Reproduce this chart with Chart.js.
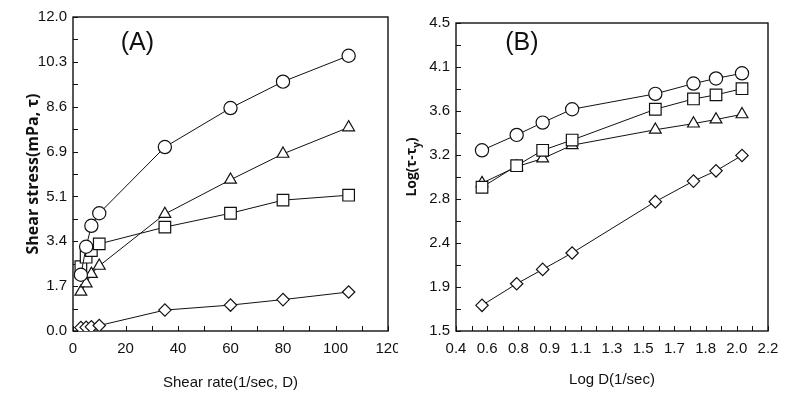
<!DOCTYPE html>
<html>
<head>
<meta charset="utf-8">
<script src="https://cdn.jsdelivr.net/npm/chart.js@4.4.0/dist/chart.umd.min.js"></script>
<style>
  body { margin: 0; background: #fff; }
  #wrap { position: relative; width: 797px; height: 399px; }
  #chartA { position: absolute; left: 0; top: 0; }
  #chartB { position: absolute; left: 398px; top: 0; }
</style>
</head>
<body>
<div id="wrap">
  <canvas id="chartA" width="398" height="399"></canvas>
  <canvas id="chartB" width="399" height="399"></canvas>
</div>
<script>
// (A) shear stress vs shear rate
const shearRate = [3, 5, 7, 10, 35, 60, 80, 105];
const stressCircle = [2.15, 3.22, 4.02, 4.50, 7.03, 8.52, 9.53, 10.52];
const stressSquare = [2.46, 2.82, 3.07, 3.33, 3.97, 4.50, 5.00, 5.19];
const stressTriangle = [1.50, 1.82, 2.18, 2.49, 4.47, 5.78, 6.77, 7.78];
const stressDiamond = [0.13, 0.14, 0.16, 0.21, 0.80, 0.99, 1.20, 1.49];
const aXTicks = ['0', '20', '40', '60', '80', '100', '120'];
const aYTicks = ['0.0', '1.7', '3.4', '5.1', '6.9', '8.6', '10.3', '12.0'];

// (B) log plot
const logRate = [0.55, 0.75, 0.90, 1.07, 1.55, 1.77, 1.90, 2.05];
const logCircle = [3.26, 3.41, 3.53, 3.66, 3.81, 3.91, 3.96, 4.01];
const logSquare = [2.90, 3.11, 3.26, 3.36, 3.66, 3.76, 3.80, 3.86];
const logTriangle = [2.94, 3.10, 3.18, 3.31, 3.46, 3.52, 3.56, 3.61];
const logDiamond = [1.75, 1.96, 2.10, 2.26, 2.76, 2.96, 3.06, 3.21];
const bXTicks = ['0.4', '0.6', '0.8', '0.9', '1.1', '1.3', '1.5', '1.7', '1.8', '2.0', '2.2'];
const bYTicks = ['1.5', '1.9', '2.4', '2.8', '3.2', '3.6', '4.1', '4.5'];

Chart.defaults.color = '#111';
Chart.defaults.font.family = "'Liberation Sans', Arial, sans-serif";
Chart.defaults.animation = false;

function series(xs, ys, style, r) {
  return {
    data: xs.map((x, i) => ({ x: x, y: ys[i] })),
    showLine: true,
    tension: 0,
    borderColor: '#111',
    borderWidth: 1,
    pointStyle: style,
    pointRadius: r,
    pointHoverRadius: r,
    pointBorderColor: '#111',
    pointBackgroundColor: '#fff',
    pointBorderWidth: 1.2
  };
}

function axis(labels, min, max, size, horizontal, title) {
  return {
    type: 'linear',
    min: min,
    max: max,
    grid: { display: false, drawTicks: false, tickLength: 0 },
    border: { display: false },
    afterBuildTicks: s => {
      s.ticks = labels.map((_, i) => ({ value: min + i * (max - min) / (labels.length - 1) }));
    },
    afterFit: s => {
      if (horizontal) s.height = size; else s.width = size;
      s.paddingLeft = 0; s.paddingRight = 0; s.paddingTop = 0; s.paddingBottom = 0;
    },
    ticks: {
      autoSkip: false,
      maxRotation: 0,
      padding: horizontal ? 9 : 6,
      font: { size: 15 },
      callback: (v, i) => labels[i]
    },
    title: title
  };
}

// box frame, inward ticks (major + minor), panel letter, subscript y-title
const frame = {
  id: 'frame',
  beforeDatasetsDraw(chart, args, opts) {
    const { ctx, chartArea: a, scales: { x, y } } = chart;
    const marks = sc => {
      const v = sc.ticks.map(t => t.value);
      const out = [];
      v.forEach((t, i) => { out.push(t); if (i < v.length - 1) out.push((t + v[i + 1]) / 2); });
      return out;
    };
    ctx.save();
    ctx.strokeStyle = '#111';
    ctx.lineWidth = 1;
    ctx.beginPath();
    marks(x).forEach(v => {
      const px = Math.round(x.getPixelForValue(v)) + 0.5;
      ctx.moveTo(px, a.bottom); ctx.lineTo(px, a.bottom - 5);
    });
    marks(y).forEach(v => {
      const py = Math.round(y.getPixelForValue(v)) + 0.5;
      ctx.moveTo(a.left, py); ctx.lineTo(a.left + 5, py);
    });
    ctx.stroke();
    ctx.lineWidth = 1.4;
    ctx.strokeRect(a.left, a.top, a.right - a.left, a.bottom - a.top);

    ctx.fillStyle = '#111';
    ctx.font = "25px 'Liberation Sans', Arial, sans-serif";
    ctx.textAlign = 'center';
    ctx.textBaseline = 'middle';
    ctx.fillText(opts.label, x.getPixelForValue(opts.at[0]), y.getPixelForValue(opts.at[1]));

    if (opts.subTitle) {
      ctx.translate(opts.subTitle.x, opts.subTitle.y);
      ctx.rotate(-Math.PI / 2);
      const big = "bold 14px 'Open Sans', sans-serif";
      const small = "bold 10px 'Open Sans', sans-serif";
      ctx.font = big;
      const w1 = ctx.measureText('Log(τ-τ').width;
      const w3 = ctx.measureText(')').width;
      ctx.font = small;
      const w2 = ctx.measureText('y').width;
      const sx = -(w1 + w2 + w3) / 2;
      ctx.textAlign = 'left';
      ctx.font = big;
      ctx.fillText('Log(τ-τ', sx, 0);
      ctx.font = small;
      ctx.fillText('y', sx + w1, 5);
      ctx.font = big;
      ctx.fillText(')', sx + w1 + w2, 0);
    }
    ctx.restore();
  }
};

new Chart(document.getElementById('chartA'), {
  type: 'scatter',
  data: {
    datasets: [
      series(shearRate, stressCircle, 'circle', 6.6),
      series(shearRate, stressSquare, 'rect', 8.2),
      series(shearRate, stressTriangle, 'triangle', 6.8),
      series(shearRate, stressDiamond, 'rectRot', 6.2)
    ]
  },
  options: {
    responsive: false,
    layout: { padding: { left: 0, right: 10, top: 17, bottom: 0 } },
    plugins: {
      legend: { display: false },
      tooltip: { enabled: false },
      frame: { label: '(A)', at: [24.5, 11.0] }
    },
    scales: {
      x: axis(aXTicks, 0, 120, 68, true,
        { display: true, text: 'Shear rate(1/sec, D)', font: { size: 15 }, padding: { top: 0, bottom: 7 } }),
      y: axis(aYTicks, 0, 12, 73, false,
        { display: true, text: 'Shear stress(mPa, τ)', font: { size: 16, weight: 'bold', family: "'Open Sans', sans-serif" }, padding: { top: 24, bottom: 0 } })
    }
  },
  plugins: [frame]
});

new Chart(document.getElementById('chartB'), {
  type: 'scatter',
  data: {
    datasets: [
      series(logRate, logCircle, 'circle', 6.6),
      series(logRate, logSquare, 'rect', 8.2),
      series(logRate, logTriangle, 'triangle', 6.8),
      series(logRate, logDiamond, 'rectRot', 6.2)
    ]
  },
  options: {
    responsive: false,
    layout: { padding: { left: 0, right: 29, top: 23, bottom: 0 } },
    plugins: {
      legend: { display: false },
      tooltip: { enabled: false },
      frame: { label: '(B)', at: [0.78, 4.3], subTitle: { x: 14, y: 167 } }
    },
    scales: {
      x: axis(bXTicks, 0.4, 2.2, 68, true,
        { display: true, text: 'Log D(1/sec)', font: { size: 15 }, padding: { top: 0, bottom: 10 } }),
      y: axis(bYTicks, 1.5, 4.5, 58, false, { display: false })
    }
  },
  plugins: [frame]
});
</script>
</body>
</html>
